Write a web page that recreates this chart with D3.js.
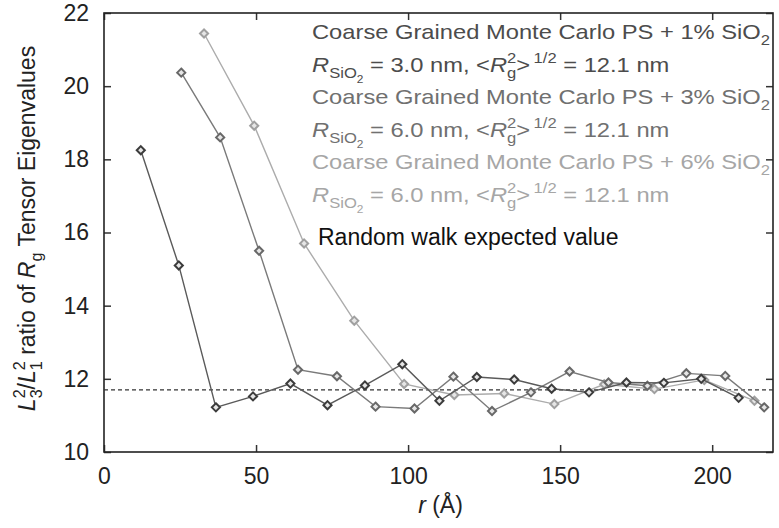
<!DOCTYPE html>
<html><head><meta charset="utf-8">
<script src="https://cdn.jsdelivr.net/npm/d3@7"></script>
<style>
html,body{margin:0;padding:0;background:#fff;}
svg{display:block;font-family:"Liberation Sans",Arial,Helvetica,sans-serif;}
</style></head>
<body>
<svg id="chart" width="779" height="528"></svg>
<script>
// ---- data ----
const s1X = [12.1, 24.6, 36.8, 49.0, 61.3, 73.5, 85.8, 98.1, 110.3, 122.6, 134.9, 147.2, 159.5, 171.8, 184.1, 196.4, 208.7];
const s1Y = [18.25, 15.1, 11.22, 11.52, 11.87, 11.28, 11.82, 12.4, 11.4, 12.05, 11.98, 11.73, 11.63, 11.9, 11.89, 12.0, 11.48];
const s2X = [25.4, 38.2, 51.0, 63.8, 76.6, 89.3, 102.1, 114.9, 127.6, 140.4, 153.1, 165.9, 178.7, 191.5, 204.3, 217.1];
const s2Y = [20.37, 18.6, 15.5, 12.25, 12.07, 11.24, 11.19, 12.06, 11.12, 11.63, 12.2, 11.9, 11.81, 12.15, 12.08, 11.22];
const s3X = [32.9, 49.4, 65.8, 82.3, 98.7, 115.2, 131.6, 148.1, 164.5, 181.0, 197.4, 213.9];
const s3Y = [21.44, 18.92, 15.7, 13.59, 11.86, 11.56, 11.6, 11.31, 11.85, 11.72, 11.97, 11.4];
const randomWalk = 11.7;
const xTicks = [0, 50, 100, 150, 200];
const yTicks = [10, 12, 14, 16, 18, 20, 22];
const legendPct = ["1%", "3%", "6%"];
const legendR = ["3.0", "6.0", "6.0"];
const legendRg = "12.1";

// ---- layout ----
const L = 104, R = 773, T = 13, B = 452;
const F = 21, FT = 23;
const svg = d3.select("#chart");
const x = d3.scaleLinear().domain([0, 220]).range([L, R]);
const y = d3.scaleLinear().domain([10, 22]).range([B, T]);

// axes (ticks inward)
const tk = 7;
svg.append("g").attr("transform", `translate(0,${B})`)
  .call(d3.axisBottom(x).tickValues(xTicks).tickSize(-tk).tickPadding(16).tickFormat(d3.format("d")))
  .call(g => { g.select(".domain").remove(); g.selectAll("text").attr("font-size", FT).attr("fill", "#222").attr("font-family", null); g.selectAll("line").attr("stroke", "#333").attr("stroke-width", 1.5); });
svg.append("g").attr("transform", `translate(0,${T})`)
  .call(d3.axisTop(x).tickValues(xTicks).tickSize(-tk).tickFormat(""))
  .call(g => { g.select(".domain").remove(); g.selectAll("line").attr("stroke", "#333").attr("stroke-width", 1.5); });
svg.append("g").attr("transform", `translate(${L},0)`)
  .call(d3.axisLeft(y).tickValues(yTicks).tickSize(-tk).tickPadding(15).tickFormat(d3.format("d")))
  .call(g => { g.select(".domain").remove(); g.selectAll("text").attr("font-size", FT).attr("fill", "#222").attr("font-family", null); g.selectAll("line").attr("stroke", "#333").attr("stroke-width", 1.5); });
svg.append("g").attr("transform", `translate(${R},0)`)
  .call(d3.axisRight(y).tickValues(yTicks).tickSize(-tk).tickFormat(""))
  .call(g => { g.select(".domain").remove(); g.selectAll("line").attr("stroke", "#333").attr("stroke-width", 1.5); });

// frame
svg.append("rect").attr("x", L).attr("y", T).attr("width", R - L).attr("height", B - T)
  .attr("fill", "none").attr("stroke", "#222").attr("stroke-width", 1.6);

// random walk line
svg.append("line").attr("x1", L).attr("x2", R).attr("y1", y(randomWalk)).attr("y2", y(randomWalk))
  .attr("stroke", "#333").attr("stroke-width", 1.3).attr("stroke-dasharray", "4,3");

// series
const series = [
  {xs: s1X, ys: s1Y, line: "#5a5a5a", mark: "#3c3c3c"},
  {xs: s2X, ys: s2Y, line: "#7a7a7a", mark: "#686868"},
  {xs: s3X, ys: s3Y, line: "#acacac", mark: "#a0a0a0"}
];
const lineGen = d3.line().x(d => x(d[0])).y(d => y(d[1]));
const diamond = d3.symbol().type(d3.symbolDiamond2).size(42);
[2, 1, 0].forEach(i => {
  const s = series[i];
  const pts = s.xs.map((v, j) => [v, s.ys[j]]);
  svg.append("path").datum(pts).attr("d", lineGen).attr("fill", "none")
    .attr("stroke", s.line).attr("stroke-width", 1.4);
  svg.append("g").selectAll("path").data(pts).join("path")
    .attr("transform", d => `translate(${x(d[0])},${y(d[1])})`)
    .attr("d", diamond).attr("fill", "#e6e6e6").attr("stroke", s.mark).attr("stroke-width", 2);
});

// rich text helper
function rich(parent, segs, size) {
  const t = parent.append("text").attr("font-size", size);
  let cur = 0;
  segs.forEach(sg => {
    const lvl = sg.s || "base";
    const fs = lvl === "base" ? size : lvl === "ss" ? size * 0.5 : size * 0.7;
    const sh = lvl === "base" ? 0 : lvl === "sup" ? -0.45 * size : lvl === "sub" ? 0.3 * size : 0.52 * size;
    const ts = t.append("tspan").text(sg.t).attr("font-size", fs).attr("dy", sh - cur);
    if (sg.i) ts.attr("font-style", "italic");
    if (sg.dx) ts.attr("dx", sg.dx);
    cur = sh;
  });
  return t;
}

// legend
const legColors = ["#4c4c4c", "#707070", "#a6a6a6"];
const legG = svg.append("g").attr("transform", "translate(312,0) scale(1.13,1)");
legendPct.forEach((p, i) => {
  const by1 = 39 + i * 2 * 32.5;
  rich(legG, [{t: `Coarse Grained Monte Carlo PS + ${p} SiO`}, {t: "2", s: "sub"}], F)
    .attr("y", by1).attr("fill", legColors[i]);
  rich(legG, [
    {t: "R", i: true}, {t: "SiO", s: "sub"}, {t: "2", s: "ss"},
    {t: ` = ${legendR[i]} nm, <`}, {t: "R", i: true}, {t: "2", s: "sup"},
    {t: "g", s: "sub", dx: -0.556 * 0.7 * F}, {t: ">"}, {t: "1/2", s: "sup", dx: 3},
    {t: ` = ${legendRg} nm`}
  ], F).attr("y", by1 + 33).attr("fill", legColors[i]);
});
svg.append("text").attr("x", 318).attr("y", 245).attr("font-size", FT).attr("fill", "#111")
  .text("Random walk expected value");

// x axis title
rich(svg, [{t: "r", i: true}, {t: " (Å)"}], FT).attr("x", (L + R) / 2 + 2).attr("y", 513)
  .attr("text-anchor", "middle").attr("fill", "#222");

// y axis title
rich(svg, [
  {t: "L", i: true}, {t: "2", s: "sup"}, {t: "3", s: "sub", dx: -0.556 * 0.7 * FT}, {t: "/"},
  {t: "L", i: true}, {t: "2", s: "sup"}, {t: "1", s: "sub", dx: -0.556 * 0.7 * FT},
  {t: " ratio of "}, {t: "R", i: true}, {t: "g", s: "sub"}, {t: " Tensor Eigenvalues"}
], FT).attr("text-anchor", "middle").attr("fill", "#222")
  .attr("transform", `translate(35,${(T + B) / 2 - 4}) rotate(-90)`);
</script>
</body></html>
